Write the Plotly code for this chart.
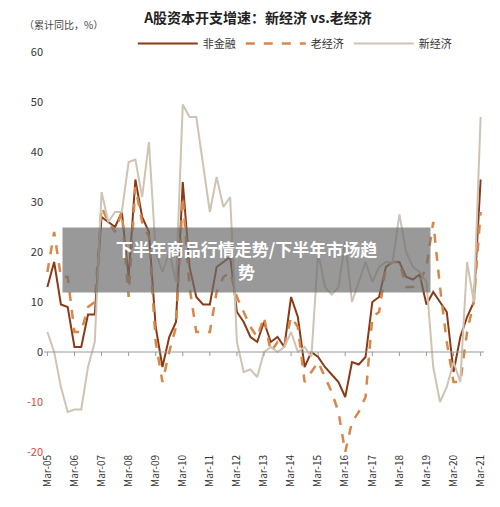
import plotly.graph_objects as go

years = list(range(5, 22))
quarters = []
for y in years:
    for q in ["Mar", "Jun", "Sep", "Dec"]:
        quarters.append(f"{q}-{y:02d}")
quarters = quarters[:65]
tick_labels = [f"Mar-{y:02d}" for y in years]

non_fin = [13, 18, 9.5, 9, 1, 1, 7.5, 7.5, 27, 26, 25, 28, 15, 34.5, 27, 24,
           5, -3, 3, 6, 34, 17, 11, 9.5, 9.5, 17, 18, 19, 8, 6, 3, 2,
           6, 2, 3, 1, 11, 7, -3, 0, -1, -3, -4.5, -6, -9, -2, -2.5, -1,
           10, 11, 17, 18, 18, 15, 14.5, 15.5, 9.5, 12, 10, 8, -4, 3, 7, 10, 34.5]
old_eco = [16, 24, 15, 15, 4, 4, 9, 10, 29, 26, 24, 28, 11, 33, 26, 23,
           2, -6, 0, 5, 31, 13, 4, 4, 4, 12, 15, 16, 11, 8, 5, 3,
           7, 0, 2, 1, 7, 5, -6, -4, -2, -5, -8, -12, -20, -14, -12, -9,
           7, 8, 17, 18, 18, 13, 13, 14, 17, 26, 13, 2, -6, -6, 4, 10, 28]
new_eco = [4, 0, -7, -12, -11.5, -11.5, -3, 2, 32, 26, 28, 28, 38, 38.5, 31, 42,
           20, 16, 20, 14, 49.5, 47, 47, 37, 28, 35, 29, 31, 2, -4, -3.5, -5,
           0, 1, 0, 1, 4, 0, 1, -1, 20, 13, 11.5, 13, 22, 10, 14, 18,
           14, 17, 18, 18, 27.5, 20, 17, 16, 14, -3, -10, -7, -2, -6, 18, 10, 47]

fig = go.Figure()
fig.add_trace(go.Scatter(x=quarters, y=non_fin, name="非金融", mode="lines",
                         line=dict(color="#8B3A16", width=2)))
fig.add_trace(go.Scatter(x=quarters, y=old_eco, name="老经济", mode="lines",
                         line=dict(color="#D8874A", width=2.5, dash="dash")))
fig.add_trace(go.Scatter(x=quarters, y=new_eco, name="新经济", mode="lines",
                         line=dict(color="#CFC3B3", width=2)))

yt = [-20, -10, 0, 10, 20, 30, 40, 50, 60]
ytext = [f"<span style='color:#E8413A'>{v}</span>" if v < 0 else str(v) for v in yt]

fig.update_layout(
    width=500, height=507, plot_bgcolor="white", paper_bgcolor="white",
    font=dict(family="Noto Sans CJK SC", size=11, color="#333"),
    margin=dict(l=36, r=24, t=44, b=63),
    title=dict(text="<b>A股资本开支增速：新经济 vs.老经济</b>", x=0.5, y=0.99,
               xanchor="center", yanchor="top", font=dict(size=14, color="#222")),
    legend=dict(orientation="h", x=0.57, xanchor="center", y=0.985, yanchor="bottom",
                font=dict(size=11), itemwidth=60, tracegroupgap=0, bgcolor="rgba(0,0,0,0)"),
    showlegend=True,
    xaxis=dict(type="category", tickvals=tick_labels, ticktext=tick_labels,
               tickangle=-90, showgrid=False, showline=False, zeroline=False,
               tickfont=dict(size=10), range=[-0.5, 64.5]),
    yaxis=dict(range=[-20, 60], tickvals=yt, ticktext=ytext, showgrid=False,
               zeroline=False, showline=False, tickfont=dict(size=11)),
    shapes=[dict(type="line", xref="paper", x0=0, x1=1, yref="y", y0=0, y1=0,
                 line=dict(color="#999", width=1.2))],
    annotations=[
        dict(text="（累计同比，%）", xref="paper", yref="paper", x=-0.05, y=1.045,
             xanchor="left", yanchor="bottom", showarrow=False, font=dict(size=10, color="#444")),
        dict(text="<b>下半年商品行情走势/下半年市场趋<br>势</b>", xref="paper", yref="paper",
             x=0.46, y=0.48, xanchor="center", yanchor="middle", showarrow=False,
             font=dict(size=17, color="white"), bgcolor="rgba(110,110,110,0.7)",
             width=365, height=62),
    ],
)
for t in tick_labels:
    fig.add_shape(type="line", x0=t, x1=t, y0=0, y1=-0.8, xref="x", yref="y",
                  line=dict(color="#999", width=1))
fig.write_html("out.html")
